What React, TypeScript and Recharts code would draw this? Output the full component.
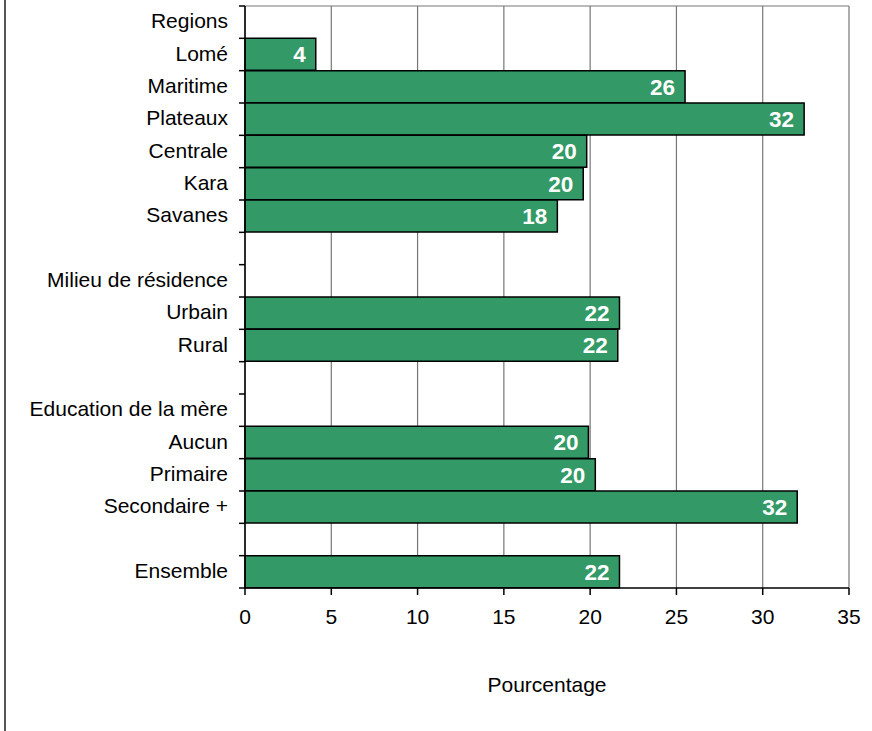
import React from 'react';
import {
  BarChart,
  Bar,
  XAxis,
  YAxis,
  CartesianGrid,
  LabelList,
  Label,
} from 'recharts';

// rows top to bottom; null = header or spacer row
const rowLabels = [
  'Regions', 'Lomé', 'Maritime', 'Plateaux', 'Centrale', 'Kara', 'Savanes', '',
  'Milieu de résidence', 'Urbain', 'Rural', '',
  'Education de la mère', 'Aucun', 'Primaire', 'Secondaire +', '',
  'Ensemble',
];
const rowValues = [
  null, 4.1, 25.5, 32.4, 19.8, 19.6, 18.1, null,
  null, 21.7, 21.6, null,
  null, 19.9, 20.3, 32.0, null,
  21.7,
];
const xTicks = [0, 5, 10, 15, 20, 25, 30, 35];

const FONT = '"Liberation Sans", Arial, sans-serif';
const PLOT_LEFT = 245;
const PLOT_TOP = 6;
const PLOT_BOTTOM = 588;
const BAND = (PLOT_BOTTOM - PLOT_TOP) / rowLabels.length;

const data = rowLabels.map((label, i) => ({ key: 'r' + i, label, value: rowValues[i] }));

function RowTick(props: any) {
  const { y, payload } = props;
  const idx = payload.index;
  const top = y - BAND / 2;
  return (
    <g>
      <line x1={PLOT_LEFT - 6} x2={PLOT_LEFT} y1={top} y2={top} stroke="#000" strokeWidth={1.5} />
      {idx === rowLabels.length - 1 && (
        <line x1={PLOT_LEFT - 6} x2={PLOT_LEFT} y1={y + BAND / 2} y2={y + BAND / 2} stroke="#000" strokeWidth={1.5} />
      )}
      <text x={PLOT_LEFT - 17} y={y} dy="0.3em" textAnchor="end" fontSize={21} fontFamily={FONT} fill="#000">
        {rowLabels[idx]}
      </text>
    </g>
  );
}

export default function App() {
  return (
    <div style={{ position: 'absolute', left: 0, top: 0, width: 872, height: 731, background: '#fff' }}>
      <div style={{ position: 'absolute', left: 4, top: 0, width: 2, height: 731, background: '#555' }} />
      <BarChart
        width={872}
        height={731}
        data={data}
        layout="vertical"
        barCategoryGap={0}
        margin={{ top: PLOT_TOP, right: 23, left: 0, bottom: 731 - PLOT_BOTTOM - 60 }}
        style={{ fontFamily: FONT }}
      >
        <CartesianGrid
          stroke="#777"
          strokeWidth={1.2}
          horizontalPoints={[PLOT_TOP]}
        />
        <XAxis
          type="number"
          domain={[0, 35]}
          ticks={xTicks}
          height={60}
          tickSize={7}
          tickMargin={14}
          stroke="#000"
          strokeWidth={1.5}
          tick={{ fill: '#000', fontSize: 21, fontFamily: FONT }}
        >
          <Label value="Pourcentage" position="bottom" offset={29} fill="#000" fontSize={21} fontFamily={FONT} />
        </XAxis>
        <YAxis
          type="category"
          dataKey="key"
          width={PLOT_LEFT}
          stroke="#000"
          strokeWidth={1.5}
          tickLine={false}
          interval={0}
          tick={<RowTick />}
        />
        <Bar dataKey="value" fill="#339966" stroke="#000" strokeWidth={1.5} isAnimationActive={false}>
          <LabelList
            dataKey="value"
            position="insideRight"
            offset={10}
            fill="#fff"
            fontSize={22.5}
            fontWeight="bold"
            fontFamily={FONT}
            formatter={(v: any) => (v == null ? '' : Math.round(v))}
          />
        </Bar>
      </BarChart>
    </div>
  );
}
